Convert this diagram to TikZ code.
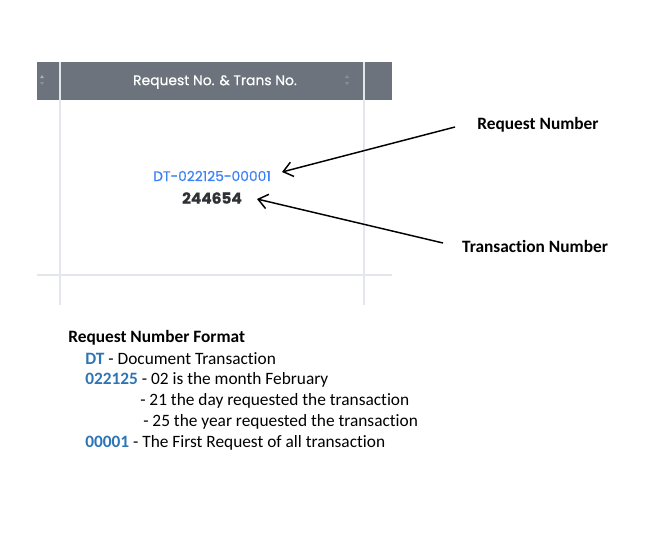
\documentclass[tikz,border=0pt]{standalone}
\usepackage{fontspec}
\setmainfont{Carlito}[Ligatures={NoCommon}]
\newfontfamily\poppins{Poppins}[FakeBold=0.6]
\usepackage{xcolor}
\usepackage{tikz}
\usetikzlibrary{positioning, arrows.meta, calc}

\definecolor{headgray}{HTML}{6C737C}
\definecolor{gridgray}{HTML}{E3E6EA}
\definecolor{sortgray}{HTML}{A9AEB5}
\definecolor{reqblue}{HTML}{3C82F6}
\definecolor{codeblue}{HTML}{2E75B6}
\definecolor{numdark}{HTML}{2F3135}

\begin{document}
\begin{tikzpicture}[
    x=0.75pt, y=-0.75pt,
    gridline/.style={draw=gridgray, line width=1.2pt},
    sorttri/.style={fill=sortgray, draw=none},
    calllbl/.style={font=\fontsize{13}{15}\selectfont\bfseries, inner sep=0pt},
    fmtline/.style={font=\fontsize{13}{15}\selectfont, anchor=west, inner sep=0pt},
    callarrow/.style={-{Straight Barb[length=7pt, width=11pt, line width=1.1pt]}, line width=1.1pt, black},
]
\useasboundingbox (0,0) rectangle (667,553);

% table header and grid
\fill[headgray] (37,62) rectangle (392,100);
\draw[gridline] (60,62) -- (60,305);
\draw[gridline] (364,62) -- (364,305);
\draw[gridline] (37,275) -- (392,275);
\node[font=\poppins\fontsize{10.4}{12}\selectfont, text=white](head) at (215,82){Request No. \& Trans No.};
\fill[sorttri] (40,78) -- (44,78) -- (42,75) -- cycle;
\fill[sorttri, opacity=0.5] (40,82) -- (44,82) -- (42,85) -- cycle;
\fill[sorttri, opacity=0.5] (345,78) -- (349,78) -- (347,75) -- cycle;
\fill[sorttri, opacity=0.5] (345,82) -- (349,82) -- (347,85) -- cycle;

% cell values
\node[font=\poppins\fontsize{10.4}{12}\selectfont, text=reqblue, inner sep=0pt](reqno) at (212,176){DT-022125-00001};
\node[font=\poppins\fontsize{11.5}{13}\selectfont\bfseries, text=numdark, inner sep=0pt](transno) at (212,198){244654};

% callouts
\node[calllbl](reqlbl) at (538,125){Request Number};
\node[calllbl](translbl) at (535,246){Transaction Number};
\coordinate (reqfrom) at (455,127);
\coordinate (reqto) at (282,172);
\coordinate (transfrom) at (443,243);
\coordinate (transto) at (257,199);
\draw[callarrow] (reqfrom) -- (reqto);
\draw[callarrow] (transfrom) -- (transto);

% format legend
\node[fmtline, font=\fontsize{13}{15}\selectfont\bfseries](fmt) at (68,338){Request Number Format};
\node[fmtline](dt) at (85,359){\textcolor{codeblue}{\textbf{DT}} - Document Transaction};
\node[fmtline](date) at (85,380){\textcolor{codeblue}{\textbf{022125}} - 02 is the month February};
\node[fmtline](day) at (140,401){- 21 the day requested the transaction};
\node[fmtline](year) at (143,422){- 25 the year requested the transaction};
\node[fmtline](seq) at (85,443){\textcolor{codeblue}{\textbf{00001}} - The First Request of all transaction};
\end{tikzpicture}
\end{document}
